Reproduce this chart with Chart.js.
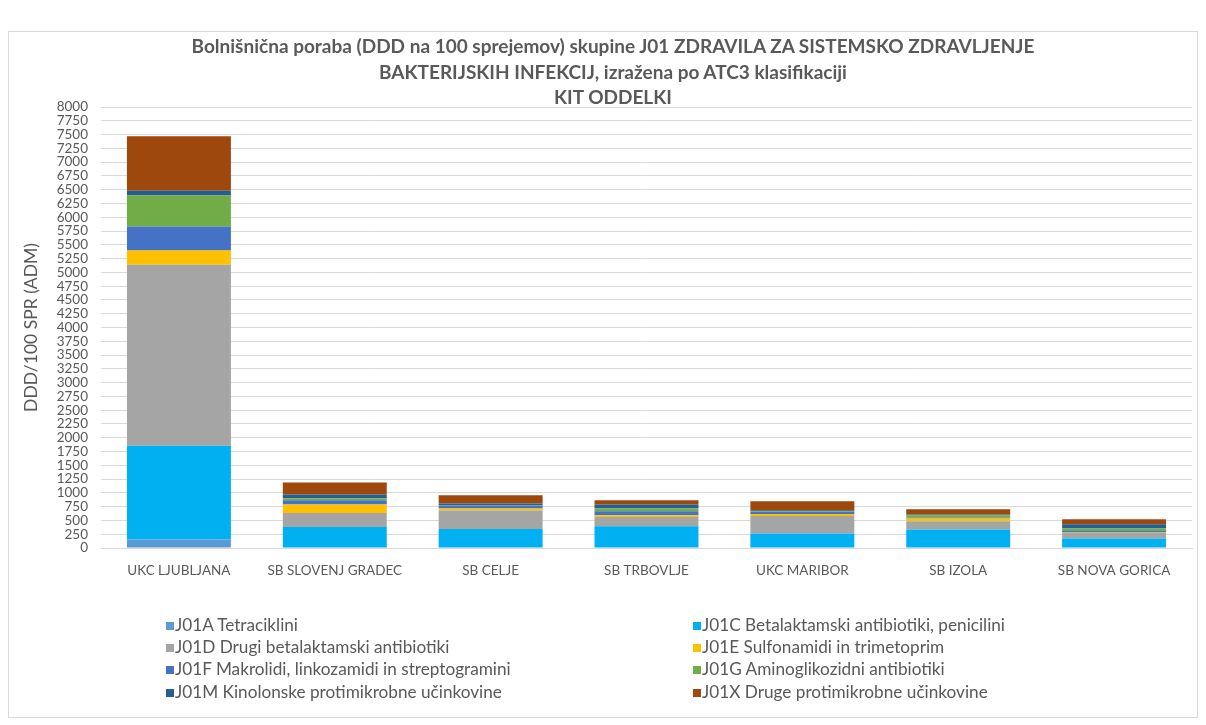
<!DOCTYPE html>
<html>
<head>
<meta charset="utf-8">
<script src="https://cdn.jsdelivr.net/npm/chart.js@4.4.1/dist/chart.umd.min.js"></script>
<style>
  html, body { margin: 0; padding: 0; background: #fff; }
  body { width: 1206px; height: 725px; position: relative; overflow: hidden; font-family: Lato, "Open Sans", sans-serif; }
  #frame { position: absolute; left: 8px; top: 31px; width: 1190px; height: 687px; border: 1px solid #d9d9d9; box-sizing: border-box; }
  #wrap { position: absolute; left: 0; top: 0; width: 1206px; height: 725px; }
  #title { position: absolute; left: 0; width: 1226px; top: 33px; text-align: center; font-weight: bold; font-size: 19px; color: #595959; line-height: 25.5px; }
  #legend { position: absolute; left: 0; top: 0; width: 1206px; height: 725px; pointer-events: none; }
  .li { position: absolute; font-size: 17.2px; color: #595959; white-space: nowrap; line-height: 20px; }
  .li span.box { display: inline-block; width: 8px; height: 8px; margin-right: 1px; vertical-align: 1px; }
</style>
</head>
<body>
<div id="frame"></div>
<div id="wrap"><canvas id="c" width="1206" height="725"></canvas></div>
<div id="title"></div>
<div id="legend"></div>
<script>
const titleLines = [
  "Bolnišnična poraba (DDD na 100 sprejemov) skupine J01 ZDRAVILA ZA SISTEMSKO ZDRAVLJENJE",
  "BAKTERIJSKIH INFEKCIJ, izražena po ATC3 klasifikaciji",
  "KIT ODDELKI"
];
const yAxisTitle = "DDD/100 SPR (ADM)";
const categories = ["UKC LJUBLJANA", "SB SLOVENJ GRADEC", "SB CELJE", "SB TRBOVLJE", "UKC MARIBOR", "SB IZOLA", "SB NOVA GORICA"];
const seriesNames = [
  "J01A Tetraciklini",
  "J01C Betalaktamski antibiotiki, penicilini",
  "J01D Drugi betalaktamski antibiotiki",
  "J01E Sulfonamidi in trimetoprim",
  "J01F Makrolidi, linkozamidi in streptogramini",
  "J01G Aminoglikozidni antibiotiki",
  "J01M Kinolonske protimikrobne učinkovine",
  "J01X Druge protimikrobne učinkovine"
];
const J01A = [153, 0, 0, 0, 0, 0, 0];
const J01C = [1700, 382, 345, 394, 262, 334, 171];
const J01D = [3284, 254, 335, 169, 319, 151, 109];
const J01E = [259, 153, 36, 31, 36, 49, 5];
const J01F = [437, 78, 54, 73, 36, 16, 24];
const J01G = [563, 36, 10, 54, 8, 42, 43];
const J01M = [85, 67, 25, 68, 24, 15, 79];
const J01X = [987, 218, 151, 78, 164, 96, 90];
const seriesValues = [J01A, J01C, J01D, J01E, J01F, J01G, J01M, J01X];
const colors = ["#5B9BD5", "#00B0F0", "#A5A5A5", "#FFC000", "#4472C4", "#70AD47", "#255E91", "#9E480E"];
const yMax = 8000, yStep = 250;

document.getElementById('title').innerHTML = titleLines.map(t => '<div>' + t + '</div>').join('');

const datasets = seriesNames.map((n, i) => ({
  label: n,
  data: seriesValues[i],
  backgroundColor: colors[i],
  borderWidth: 0,
  categoryPercentage: 1.0,
  barPercentage: 0.667
}));

new Chart(document.getElementById('c'), {
  type: 'bar',
  data: { labels: categories, datasets },
  options: {
    responsive: false,
    animation: false,
    layout: { padding: { top: 107, right: 14, left: 0, bottom: 0 } },
    plugins: { legend: { display: false }, title: { display: false }, tooltip: { enabled: false } },
    scales: {
      x: {
        stacked: true,
        grid: { display: false, drawTicks: false },
        border: { display: true, color: '#d9d9d9' },
        ticks: { color: '#595959', font: { family: 'Lato', size: 13.5 }, padding: 15, maxRotation: 0 },
        afterFit: s => { s.height = 177; }
      },
      y: {
        stacked: true,
        min: 0, max: yMax,
        grid: { color: '#d9d9d9', drawTicks: false },
        border: { display: false },
        ticks: { stepSize: yStep, color: '#595959', font: { family: 'Lato', size: 13.5 }, padding: 13, autoSkip: false,
                 callback: v => String(v) },
        title: { display: true, text: yAxisTitle, color: '#595959', font: { family: 'Lato', size: 17.5 }, padding: { top: 21, bottom: 0 } },
        afterFit: s => { s.width = 101; }
      }
    }
  }
});

const legend = document.getElementById('legend');
const colX = [166, 693];
const rowY = [615, 637, 659, 682];
seriesNames.forEach((n, i) => {
  const d = document.createElement('div');
  d.className = 'li';
  d.style.left = colX[i % 2] + 'px';
  d.style.top = rowY[Math.floor(i / 2)] + 'px';
  d.innerHTML = '<span class="box" style="background:' + colors[i] + '"></span>' + n;
  legend.appendChild(d);
});
</script>
</body>
</html>
